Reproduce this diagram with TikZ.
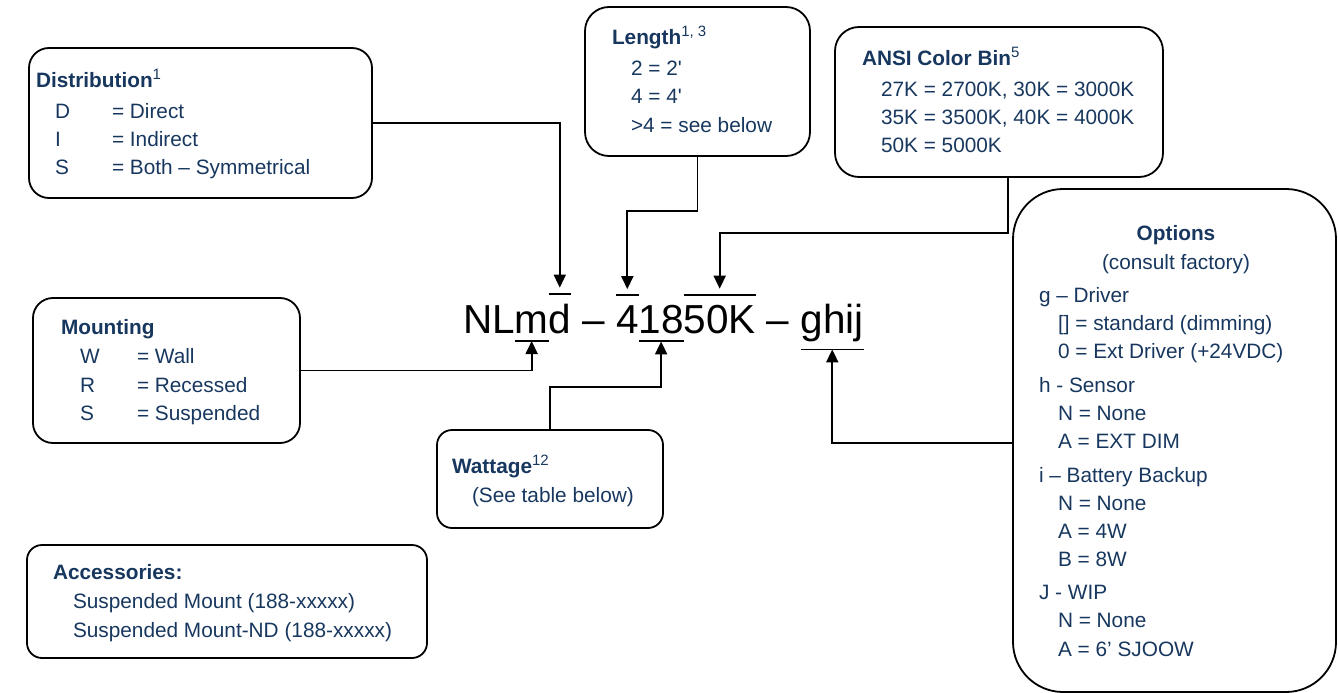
\documentclass[tikz,border=0pt]{standalone}
\usepackage{fontspec}
\setmainfont{Liberation Sans}
\usetikzlibrary{arrows.meta}
\definecolor{navy}{HTML}{17375E}
\newcommand\supr[1]{\raisebox{8pt}{\fontsize{15}{15}\selectfont\mdseries #1}}
\begin{document}
\begin{tikzpicture}[x=1pt,y=-1pt,
 box/.style={draw=black, line width=1.8pt, rounded corners=#1, inner sep=0pt, outer sep=0pt},
 box/.default=20pt,
 txt/.style={anchor=base west, inner sep=0pt, outer sep=0pt, text=navy, font=\fontsize{20.8}{25}\selectfont},
 ctxt/.style={txt, anchor=base},
 ttl/.style={txt, font=\fontsize{20.8}{25}\selectfont\bfseries},
 cttl/.style={ttl, anchor=base},
 code/.style={anchor=base west, inner sep=0pt, outer sep=0pt, text=black, font=\fontsize{40.5}{48}\selectfont},
 barline/.style={line width=1.8pt},
 arr/.style={line width=1.8pt, -{Triangle[length=13pt,width=12pt]}}]
\useasboundingbox (0,0) rectangle (1338,693);

% boxes
\node[box=20pt, minimum width=343pt, minimum height=150pt] (dist) at (200.5,123) {};
\node[box=24pt, minimum width=225pt, minimum height=149pt] (len) at (697.5,81.5) {};
\node[box=24pt, minimum width=328pt, minimum height=150pt] (ansi) at (999,102) {};
\node[box=50pt, minimum width=323pt, minimum height=503pt] (opt) at (1174.5,440.5) {};
\node[box=20pt, minimum width=267pt, minimum height=145pt] (mount) at (166.5,370.5) {};
\node[box=15pt, minimum width=226pt, minimum height=98pt] (watt) at (550,479) {};
\node[box=15pt, minimum width=400pt, minimum height=113pt] (acc) at (227,601.5) {};

% Distribution
\node[ttl] (dt) at (36,88) {Distribution\supr{1}};
\node[txt] (dk1) at (55,118) {D};
\node[txt] (dv1) at (112,118) {= Direct};
\node[txt] (dk2) at (55,146) {I};
\node[txt] (dv2) at (112,146) {= Indirect};
\node[txt] (dk3) at (55,174) {S};
\node[txt] (dv3) at (112,174) {= Both – Symmetrical};

% Length
\node[ttl] (lt) at (612,45) {Length\supr{1, 3}};
\node[txt] (l1) at (631,75) {2 = 2\textquotesingle};
\node[txt] (l2) at (631,103) {4 = 4\textquotesingle};
\node[txt] (l3) at (631,132) {>4 = see below};

% ANSI
\node[ttl] (at) at (862,66) {ANSI Color Bin\supr{5}};
\node[txt] (a1) at (881,96) {27K = 2700K, 30K = 3000K};
\node[txt] (a2) at (881,124) {35K = 3500K, 40K = 4000K};
\node[txt] (a3) at (881,152) {50K = 5000K};

% Options
\node[cttl] (ot) at (1176,240) {Options};
\node[ctxt] (oc) at (1176,269) {(consult factory)};
\node[txt] (og) at (1039,302) {g – Driver};
\node[txt] (og1) at (1058,330) {[] = standard (dimming)};
\node[txt] (og2) at (1058,358) {0 = Ext Driver (+24VDC)};
\node[txt] (oh) at (1039,392) {h - Sensor};
\node[txt] (oh1) at (1058,420) {N = None};
\node[txt] (oh2) at (1058,448) {A = EXT DIM};
\node[txt] (oi) at (1039,482) {i – Battery Backup};
\node[txt] (oi1) at (1058,510) {N = None};
\node[txt] (oi2) at (1058,538) {A = 4W};
\node[txt] (oi3) at (1058,566) {B = 8W};
\node[txt] (oj) at (1039,599) {J - WIP};
\node[txt] (oj1) at (1058,627) {N = None};
\node[txt] (oj2) at (1058,656) {A = 6’ SJOOW};

% Mounting
\node[ttl] (mt) at (61,334) {Mounting};
\node[txt] (mk1) at (80,363) {W};
\node[txt] (mv1) at (137,363) {= Wall};
\node[txt] (mk2) at (80,392) {R};
\node[txt] (mv2) at (137,392) {= Recessed};
\node[txt] (mk3) at (80,420) {S};
\node[txt] (mv3) at (137,420) {= Suspended};

% Wattage
\node[ttl] (wt) at (452,473) {Wattage\supr{12}};
\node[txt] (w1) at (472,502) {(See table below)};

% Accessories
\node[ttl] (act) at (53,579) {Accessories:};
\node[txt] (ac1) at (73,608) {Suspended Mount (188-xxxxx)};
\node[txt] (ac2) at (73,637) {Suspended Mount-ND (188-xxxxx)};

% code
\node[code] (cNL) at (463,333) {NL};
\node[code] (cm) at (cNL.base east) {m};
\node[code] (cd) at (cm.base east) {d};
\node[code] (cs1) at (cd.base east) {\ –\ \null};
\node[code] (c4) at (cs1.base east) {4};
\node[code] (c18) at (c4.base east) {18};
\node[code] (c50) at (c18.base east) {50K};
\node[code] (cs2) at (c50.base east) {\ –\ \null};
\node[code] (cg) at (cs2.base east) {ghij};

% over / under lines
\draw[barline] ([yshift=10pt]cd.north west) -- ([yshift=10pt]cd.north east);
\draw[barline] ([yshift=10pt]c4.north west) -- ([yshift=10pt]c4.north east);
\draw[barline] ([yshift=10pt]c50.north west) -- ([yshift=10pt]c50.north east);
\draw[barline] ([yshift=-8pt]cm.south west) -- ([yshift=-8pt]cm.south east);
\draw[barline] ([yshift=-8pt]c18.south west) -- ([yshift=-8pt]c18.south east);
\draw[barline] ([yshift=-8pt]cg.south west) -- ([yshift=-8pt]cg.south east);

\coordinate (od) at ([yshift=16pt]cd.north);
\coordinate (o4) at ([yshift=16pt]c4.north);
\coordinate (o50) at ([yshift=16pt]c50.north);
\coordinate (um) at ([yshift=-8pt]cm.south);
\coordinate (u18) at ([yshift=-8pt]c18.south);
\coordinate (ug) at ([yshift=-8pt]cg.south);

% connectors
\draw[arr] (dist.east) -| (od);
\coordinate (lenturn) at (697.5,211);
\draw[arr] (len.south) -- (lenturn) -| (o4);
\coordinate (ansiturn) at (1008,233);
\draw[arr] (ansi.south -| ansiturn) -- (ansiturn) -| (o50);
\draw[arr] (mount.east) -| (um);
\coordinate (wattturn) at (550,387);
\draw[arr] (watt.north) -- (wattturn) -| (u18);
\draw[arr] ([yshift=-2.5pt]opt.west) -| (ug);
\end{tikzpicture}
\end{document}
